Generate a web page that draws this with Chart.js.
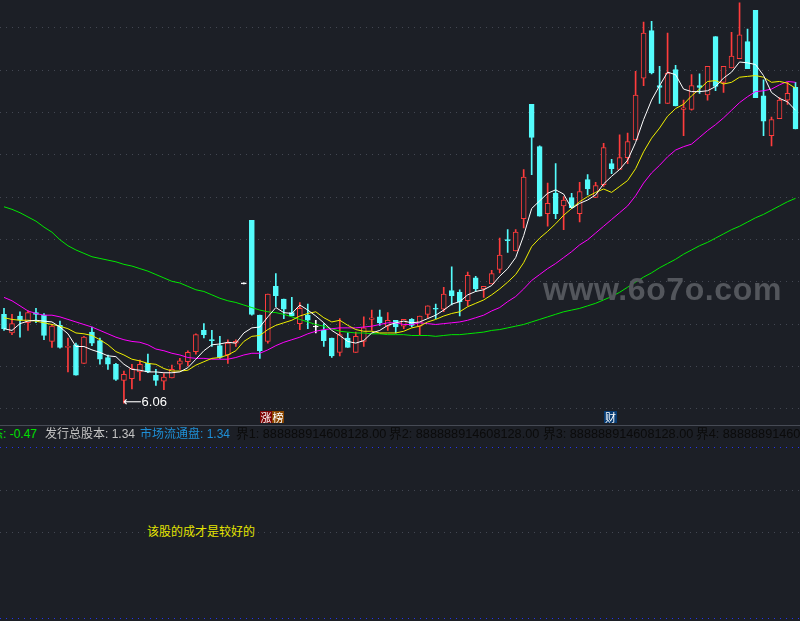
<!DOCTYPE html>
<html>
<head>
<meta charset="utf-8">
<script src="https://cdn.jsdelivr.net/npm/chart.js@4/dist/chart.umd.min.js"></script>
<style>
  html, body { margin: 0; padding: 0; background: #1c1f26; }
  #stage { position: relative; width: 800px; height: 621px; overflow: hidden; background: #1c1f26;
           font-family: "Liberation Sans", "Noto Sans CJK SC", sans-serif; }
  #kbox { position: absolute; left: 0; top: 0; width: 800px; height: 425px; }
  .line { position: absolute; left: 0; width: 800px; height: 1px; }
  .dots { background: repeating-linear-gradient(to right, #434752 0 1px, transparent 1px 6px); }
  .bdots { background: repeating-linear-gradient(to right, #2233ee 0 1px, transparent 1px 6px); }
  .txt { position: absolute; white-space: nowrap; font-size: 12px; line-height: 14px; }
  .tag { position: absolute; top: 411px; height: 12px; line-height: 12px; font-size: 11px;
         color: #fff; text-align: center; font-family: "Noto Sans CJK SC", sans-serif; }
</style>
</head>
<body>
<div id="stage">
  <div id="kbox"><canvas id="kline"></canvas></div>
  <div id="lowTag" class="txt" style="color:#fff;font-size:13px;"></div>

  <div class="tag" style="left:260px;width:12px;background:#7d0505;">涨</div>
  <div class="tag" style="left:272px;width:12px;background:#8a4600;">榜</div>
  <div class="tag" style="left:604px;width:13px;background:#073c74;">财</div>

  <div class="txt" style="left:543px;top:273px;font-size:32px;line-height:32px;font-weight:bold;color:#53565c;letter-spacing:0.6px;">www.6o7o.com</div>

  <div class="line" style="top:425px;background:#474b55;"></div>
  <div class="txt" style="left:-9px;top:427px;color:#00e000;">态: -0.47</div>
  <div class="txt" style="left:45px;top:427px;color:#c4c4c4;">发行总股本: 1.34</div>
  <div class="txt" style="left:140px;top:427px;color:#1e8fd6;">市场流通盘: 1.34</div>
  <div class="txt" style="left:236px;top:427px;color:#0b0b0b;font-size:12.7px;">界1: 888888914608128.00</div>
  <div class="txt" style="left:389px;top:427px;color:#0b0b0b;font-size:12.7px;">界2: 888888914608128.00</div>
  <div class="txt" style="left:543px;top:427px;color:#0b0b0b;font-size:12.7px;">界3: 888888914608128.00</div>
  <div class="txt" style="left:696px;top:427px;color:#0b0b0b;font-size:12.7px;">界4: 888888914608128.00</div>

  <div class="line bdots" style="top:447px;"></div>
  <div class="line dots" style="top:490px;"></div>
  <div class="line dots" style="top:532px;"></div>
  <div class="line bdots" style="top:618px;"></div>
  <div class="txt" style="left:147px;top:524px;font-size:12px;color:#e4e400;font-family:'Noto Sans CJK SC',sans-serif;">该股的成才是较好的</div>
</div>

<script>
// daily candles
const open = [7.11, 6.89, 7.09, 7.01, 7.13, 7.10, 6.79, 6.98, 6.72, 6.75,
  6.53, 6.90, 6.80, 6.60, 6.52, 6.33, 6.35, 6.43, 6.53, 6.39,
  6.32, 6.36, 6.52, 6.55, 6.67, 6.92, 6.81, 6.74, 6.63, 6.77,
  7.47, 8.22, 7.10, 6.79, 7.44, 7.29, 7.13, 7.00, 7.10, 6.96,
  6.92, 6.83, 6.66, 6.83, 6.66, 6.79, 7.05, 7.08, 6.97, 7.04,
  6.97, 7.05, 6.97, 7.11, 7.18, 7.17, 7.39, 7.37, 7.27, 7.54,
  7.41, 7.47, 7.64, 7.99, 7.86, 8.24, 9.59, 9.09, 8.30, 8.54,
  8.39, 8.49, 8.30, 8.70, 8.49, 8.64, 8.89, 8.82, 8.96, 9.17,
  9.90, 10.46, 9.81, 9.60, 10.00, 9.53, 9.53, 9.81, 9.70, 10.39,
  9.85, 10.02, 10.13, 10.33, 10.70, 9.69, 9.22, 9.42, 9.64, 9.79];
const high = [7.18, 7.11, 7.14, 7.15, 7.18, 7.12, 6.99, 7.03, 6.83, 6.77,
  6.85, 6.96, 6.83, 6.63, 6.53, 6.44, 6.52, 6.57, 6.64, 6.46,
  6.41, 6.51, 6.59, 6.68, 6.88, 7.00, 6.92, 6.85, 6.81, 6.81,
  7.47, 8.22, 7.10, 7.35, 7.59, 7.29, 7.31, 7.25, 7.23, 7.04,
  7.00, 6.83, 7.06, 6.89, 6.90, 7.08, 7.16, 7.16, 7.13, 7.04,
  7.05, 7.06, 7.09, 7.21, 7.23, 7.43, 7.67, 7.40, 7.61, 7.56,
  7.44, 7.63, 8.01, 8.11, 8.11, 8.82, 9.59, 9.10, 8.66, 8.89,
  8.50, 8.54, 8.67, 8.76, 8.67, 9.13, 8.94, 9.23, 9.25, 9.98,
  10.56, 10.57, 10.04, 10.43, 10.05, 9.64, 9.94, 9.95, 10.04, 10.39,
  10.04, 10.44, 10.79, 10.48, 10.70, 9.88, 9.44, 9.67, 9.85, 9.85];
const low = [6.92, 6.87, 6.84, 6.92, 7.01, 6.81, 6.72, 6.71, 6.43, 6.39,
  6.53, 6.74, 6.52, 6.46, 6.33, 6.06, 6.23, 6.33, 6.42, 6.27,
  6.22, 6.36, 6.46, 6.50, 6.64, 6.83, 6.73, 6.59, 6.53, 6.73,
  7.47, 7.10, 6.59, 6.77, 7.20, 7.06, 7.09, 6.93, 6.94, 6.89,
  6.73, 6.60, 6.62, 6.72, 6.66, 6.73, 6.92, 6.98, 6.92, 6.89,
  6.94, 6.96, 6.87, 7.07, 7.06, 7.14, 7.22, 7.09, 7.21, 7.38,
  7.31, 7.47, 7.60, 7.84, 7.86, 8.13, 8.76, 8.27, 8.15, 8.24,
  8.11, 8.37, 8.20, 8.52, 8.49, 8.62, 8.77, 8.82, 8.89, 9.17,
  9.81, 9.95, 9.60, 9.60, 9.57, 9.22, 9.52, 9.72, 9.64, 9.75,
  9.73, 10.02, 10.13, 10.01, 9.67, 9.22, 9.10, 9.42, 9.59, 9.30];
const close = [6.94, 7.00, 7.04, 7.13, 7.11, 6.86, 6.97, 6.72, 6.73, 6.39,
  6.84, 6.77, 6.58, 6.52, 6.34, 6.40, 6.47, 6.52, 6.43, 6.33,
  6.37, 6.46, 6.56, 6.66, 6.87, 6.87, 6.80, 6.60, 6.77, 6.79,
  7.47, 7.11, 6.68, 7.35, 7.33, 7.17, 7.09, 7.18, 7.04, 6.96,
  6.80, 6.62, 6.87, 6.72, 6.85, 6.95, 7.07, 7.01, 7.04, 6.96,
  7.05, 6.98, 7.09, 7.21, 7.17, 7.35, 7.33, 7.26, 7.57, 7.41,
  7.44, 7.59, 7.81, 7.98, 8.08, 8.73, 9.20, 8.27, 8.42, 8.30,
  8.46, 8.37, 8.56, 8.59, 8.63, 9.08, 8.83, 8.96, 9.15, 9.70,
  10.43, 9.96, 9.79, 9.96, 9.57, 9.55, 9.81, 9.79, 10.04, 9.80,
  10.04, 10.16, 10.41, 10.01, 9.67, 9.39, 9.41, 9.64, 9.72, 9.30];

// moving average lines as drawn (white, yellow, magenta, green)
const ma5 = [6.94, 6.92, 7.00, 7.03, 7.04, 7.03, 7.02, 6.96, 6.88, 6.73,
  6.73, 6.69, 6.66, 6.62, 6.61, 6.52, 6.46, 6.45, 6.43, 6.43,
  6.42, 6.42, 6.43, 6.48, 6.58, 6.68, 6.75, 6.76, 6.78, 6.77,
  6.89, 6.95, 6.96, 7.08, 7.19, 7.13, 7.12, 7.22, 7.16, 7.09,
  7.01, 6.92, 6.86, 6.79, 6.77, 6.80, 6.89, 6.92, 6.98, 7.01,
  7.03, 7.01, 7.02, 7.06, 7.10, 7.16, 7.23, 7.26, 7.34, 7.38,
  7.40, 7.45, 7.56, 7.65, 7.78, 8.04, 8.36, 8.45, 8.54, 8.58,
  8.53, 8.36, 8.42, 8.46, 8.52, 8.65, 8.74, 8.82, 8.93, 9.14,
  9.41, 9.64, 9.81, 9.97, 9.94, 9.77, 9.74, 9.74, 9.75, 9.80,
  9.90, 9.97, 10.09, 10.08, 10.06, 9.93, 9.73, 9.66, 9.62, 9.52];
const ma10 = [7.07, 7.05, 7.04, 7.04, 7.03, 7.01, 6.99, 6.97, 6.94, 6.89,
  6.88, 6.86, 6.81, 6.75, 6.67, 6.63, 6.58, 6.56, 6.53, 6.52,
  6.47, 6.44, 6.44, 6.45, 6.51, 6.55, 6.59, 6.60, 6.63, 6.68,
  6.79, 6.85, 6.86, 6.93, 6.98, 7.01, 7.04, 7.09, 7.12, 7.14,
  7.07, 7.02, 7.04, 6.98, 6.93, 6.91, 6.91, 6.89, 6.89, 6.89,
  6.91, 6.95, 6.97, 7.02, 7.05, 7.09, 7.12, 7.14, 7.20, 7.24,
  7.28, 7.34, 7.41, 7.49, 7.58, 7.72, 7.91, 8.01, 8.09, 8.18,
  8.28, 8.36, 8.44, 8.50, 8.55, 8.59, 8.55, 8.62, 8.69, 8.83,
  9.03, 9.19, 9.31, 9.45, 9.54, 9.59, 9.69, 9.77, 9.86, 9.87,
  9.83, 9.85, 9.91, 9.92, 9.93, 9.91, 9.85, 9.86, 9.84, 9.78];
const ma20 = [7.31, 7.27, 7.21, 7.15, 7.12, 7.10, 7.10, 7.08, 7.05, 7.02,
  6.99, 6.96, 6.92, 6.88, 6.84, 6.81, 6.79, 6.78, 6.75, 6.70,
  6.68, 6.65, 6.63, 6.60, 6.59, 6.59, 6.58, 6.58, 6.58, 6.60,
  6.63, 6.65, 6.65, 6.69, 6.74, 6.78, 6.81, 6.84, 6.88, 6.91,
  6.93, 6.94, 6.95, 6.95, 6.95, 6.96, 6.97, 6.99, 7.01, 7.01,
  6.99, 6.99, 7.01, 7.00, 6.99, 7.00, 7.01, 7.02, 7.04, 7.07,
  7.10, 7.15, 7.19, 7.26, 7.32, 7.41, 7.51, 7.58, 7.65, 7.71,
  7.78, 7.85, 7.93, 7.99, 8.07, 8.15, 8.23, 8.31, 8.39, 8.51,
  8.66, 8.78, 8.87, 8.97, 9.05, 9.09, 9.12, 9.20, 9.28, 9.35,
  9.43, 9.52, 9.61, 9.68, 9.74, 9.75, 9.77, 9.82, 9.86, 9.85];
const ma60 = [8.38, 8.35, 8.31, 8.26, 8.21, 8.14, 8.08, 7.99, 7.92, 7.87,
  7.83, 7.79, 7.77, 7.75, 7.73, 7.70, 7.68, 7.65, 7.62, 7.58,
  7.54, 7.50, 7.48, 7.44, 7.40, 7.38, 7.34, 7.30, 7.27, 7.25,
  7.22, 7.19, 7.16, 7.14, 7.13, 7.11, 7.08, 7.05, 7.02, 6.99,
  6.97, 6.94, 6.91, 6.90, 6.89, 6.89, 6.88, 6.88, 6.87, 6.87,
  6.87, 6.86, 6.86, 6.86, 6.85, 6.86, 6.87, 6.87, 6.88, 6.89,
  6.90, 6.92, 6.93, 6.95, 6.97, 6.99, 7.02, 7.05, 7.08, 7.11,
  7.14, 7.16, 7.18, 7.21, 7.24, 7.28, 7.32, 7.37, 7.43, 7.49,
  7.55, 7.60, 7.66, 7.71, 7.76, 7.82, 7.87, 7.92, 7.96, 8.01,
  8.06, 8.11, 8.15, 8.20, 8.25, 8.29, 8.34, 8.39, 8.44, 8.48];

// dotted price grid
const gridPrices = [6.0, 6.5, 7.0, 7.5, 8.0, 8.5, 9.0, 9.5, 10.0, 10.5];

const days = close.map((_, i) => 'D' + (i + 1));

const BG = '#1c1f26';
const RED = '#ff3c3c';
const CYAN = '#54fcfc';
const WHITE = '#ffffff';

const candleColor = close.map((c, i) => c > open[i] ? RED : (c < open[i] ? CYAN : WHITE));
const bodyFill = close.map((c, i) => c > open[i] ? BG : candleColor[i]);

const gridPlugin = {
  id: 'dotGrid',
  beforeDatasetsDraw(chart) {
    const { ctx, scales } = chart;
    ctx.save();
    ctx.strokeStyle = '#434752';
    ctx.lineWidth = 1;
    ctx.setLineDash([1, 5]);
    gridPrices.forEach(v => {
      const y = Math.round(scales.y.getPixelForValue(v)) + 0.5;
      ctx.beginPath();
      ctx.moveTo(0, y);
      ctx.lineTo(chart.width, y);
      ctx.stroke();
    });
    ctx.restore();
  }
};

// puts the "lowest price" tag next to the lowest wick
const lowTagPlugin = {
  id: 'lowTag',
  afterDraw(chart) {
    let idx = 0;
    low.forEach((v, i) => { if (v < low[idx]) idx = i; });
    const x = chart.scales.x.getPixelForValue(idx);
    const y = chart.scales.y.getPixelForValue(low[idx]);
    const el = document.getElementById('lowTag');
    el.innerHTML = '<span style="font-family:\'DejaVu Sans\';">\u27F5</span>' + low[idx].toFixed(2);
    el.style.left = (x - 1) + 'px';
    el.style.top = (y - 8) + 'px';
  }
};

function maLine(label, data, color) {
  return {
    type: 'line', label, data,
    borderColor: color, borderWidth: 1,
    pointRadius: 0, tension: 0, fill: false, order: 1
  };
}

new Chart(document.getElementById('kline'), {
  type: 'bar',
  data: {
    labels: days,
    datasets: [
      maLine('MA5', ma5, '#ffffff'),
      maLine('MA10', ma10, '#f0f000'),
      maLine('MA20', ma20, '#ff00ff'),
      maLine('MA60', ma60, '#00e800'),
      {
        type: 'bar', label: 'body',
        data: open.map((o, i) => [o, close[i]]),
        backgroundColor: bodyFill,
        borderColor: candleColor,
        borderWidth: 1,
        borderSkipped: false,
        barThickness: 5,
        minBarLength: 1,
        grouped: false,
        order: 5
      },
      {
        type: 'bar', label: 'wick',
        data: low.map((l, i) => [l, high[i]]),
        backgroundColor: candleColor,
        borderWidth: 0,
        barThickness: 1,
        minBarLength: 1,
        grouped: false,
        order: 6
      }
    ]
  },
  options: {
    responsive: true,
    maintainAspectRatio: false,
    animation: false,
    layout: { padding: { left: -0.5, right: 0.5, top: 0, bottom: 0 } },
    scales: {
      x: { display: false, offset: true },
      y: { display: false, min: 5.803, max: 10.822 }
    },
    plugins: {
      legend: { display: false },
      tooltip: { enabled: false }
    }
  },
  plugins: [gridPlugin, lowTagPlugin]
});
</script>
</body>
</html>
